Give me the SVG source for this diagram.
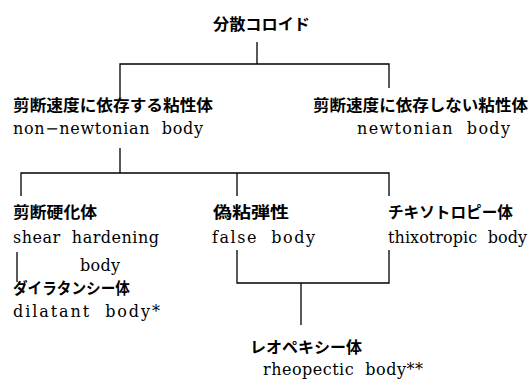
<svg xmlns="http://www.w3.org/2000/svg" width="531" height="380" viewBox="0 0 531 380">
<style>
.jp{font-family:"Noto Sans CJK JP","Noto Sans",sans-serif;font-size:15.5px;font-weight:bold;fill:#000}
.en{font-family:"DejaVu Serif","Liberation Serif",serif;font-size:16px;fill:#000}
.ln{stroke:#000;stroke-width:1.3;fill:none}
</style>
<rect width="531" height="380" fill="#fff"/>
<g id="connectors">
<path class="ln" d="M257,42 V64 M120,97 V64 H389 V88"/>
<path class="ln" d="M120,148 V173 M21,196 V173 H389 V196 M237,173 V196"/>
<path class="ln" d="M17,252 V282"/>
<path class="ln" d="M237,250 V283 H389 V250 M301,283 V325"/>
</g>
<g id="root"><text class="jp" x="213" y="30" textLength="97" lengthAdjust="spacingAndGlyphs">分散コロイド</text></g>
<g id="non-newtonian">
<text class="jp" x="13" y="111" textLength="200" lengthAdjust="spacingAndGlyphs">剪断速度に依存する粘性体</text>
<text class="en" x="13" y="134" textLength="190" lengthAdjust="spacing" xml:space="preserve">non−newtonian  body</text>
</g>
<g id="newtonian">
<text class="jp" x="313" y="111" textLength="215" lengthAdjust="spacingAndGlyphs">剪断速度に依存しない粘性体</text>
<text class="en" x="357" y="134" textLength="153" lengthAdjust="spacing" xml:space="preserve">newtonian  body</text>
</g>
<g id="shear-hardening">
<text class="jp" x="13" y="218" textLength="84" lengthAdjust="spacingAndGlyphs">剪断硬化体</text>
<text class="en" x="13" y="243" textLength="146" lengthAdjust="spacing" xml:space="preserve">shear  hardening</text>
<text class="en" x="80" y="271" textLength="40" lengthAdjust="spacing">body</text>
</g>
<g id="false-body">
<text class="jp" x="213" y="218" textLength="76" lengthAdjust="spacingAndGlyphs">偽粘弾性</text>
<text class="en" x="212" y="243" textLength="103" lengthAdjust="spacing" xml:space="preserve">false  body</text>
</g>
<g id="thixotropic">
<text class="jp" x="388" y="218" textLength="125" lengthAdjust="spacingAndGlyphs">チキソトロピー体</text>
<text class="en" x="388" y="243" textLength="139" lengthAdjust="spacing" xml:space="preserve">thixotropic  body</text>
</g>
<g id="dilatant">
<text class="jp" x="13" y="294" textLength="117" lengthAdjust="spacingAndGlyphs">ダイラタンシー体</text>
<text class="en" x="13" y="317" textLength="147" lengthAdjust="spacing" xml:space="preserve">dilatant  body*</text>
</g>
<g id="rheopectic">
<text class="jp" x="250" y="353" textLength="112" lengthAdjust="spacingAndGlyphs">レオペキシー体</text>
<text class="en" x="263" y="375" textLength="160" lengthAdjust="spacing" xml:space="preserve">rheopectic  body**</text>
</g>
</svg>
